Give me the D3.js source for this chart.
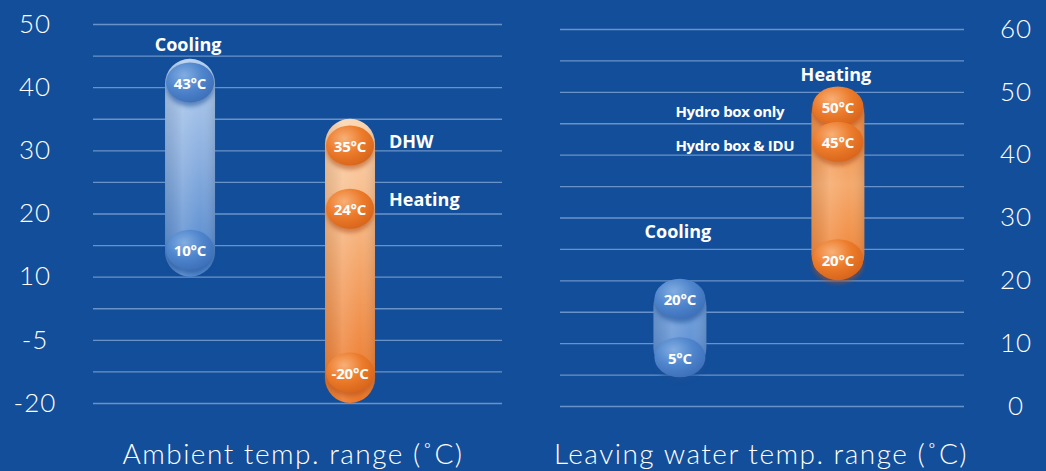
<!DOCTYPE html>
<html>
<head>
<meta charset="utf-8">
<script src="https://cdn.jsdelivr.net/npm/d3@7"></script>
<style>
html, body { margin: 0; padding: 0; background: #134e9a; }
svg { display: block; }
</style>
</head>
<body>
<svg id="chart" width="1046" height="471"></svg>
<script>
// ambient temperature panel (left)
const ambientTicks = [-20, -5, 10, 20, 30, 40, 50];
const ambientCats = ['Cooling', 'Heating'];
const ambientLow = [10, -20];
const ambientHigh = [44.5, 35];
const ambientMarkLabels = ['43°C', '10°C', '35°C', '24°C', '-20°C'];
const ambientMarkCats = ['Cooling', 'Cooling', 'Heating', 'Heating', 'Heating'];
const ambientMarkLevels = [40.6, 14.1, 30.6, 20.6, -13];
const ambientNotes = ['Cooling', 'DHW', 'Heating'];
const ambientNoteCats = ['Cooling', 'Heating', 'Heating'];
const ambientNoteLevels = [46.8, 31.4, 22.2];
const ambientNoteSides = ['top', 'right', 'right'];

// leaving water temperature panel (right)
const waterTicks = [0, 10, 20, 30, 40, 50, 60];
const waterCats = ['Cooling', 'Heating'];
const waterLow = [5, 20];
const waterHigh = [20, 50.6];
const waterMarkLabels = ['20°C', '5°C', '50°C', '45°C', '20°C'];
const waterMarkCats = ['Cooling', 'Cooling', 'Heating', 'Heating', 'Heating'];
const waterMarkLevels = [16.9, 7.6, 47.5, 41.9, 23.2];
const waterNotes = ['Heating', 'Hydro box only', 'Hydro box & IDU', 'Cooling'];
const waterNoteCats = ['Heating', 'Heating', 'Heating', 'Cooling'];
const waterNoteLevels = [52.7, 46.8, 41.4, 27.7];
const waterNoteSides = ['top', 'left', 'left', 'top'];

const svg = d3.select('#chart');
const defs = svg.append('defs');

const labelFont = '"Open Sans", "DejaVu Sans", sans-serif';
const axisFont = 'Lato, "Open Sans", sans-serif';

// gradients
function linearGrad(id, stops, horizontal) {
    const g = defs.append('linearGradient').attr('id', id)
        .attr('x1', 0).attr('y1', 0)
        .attr('x2', horizontal ? 1 : 0).attr('y2', horizontal ? 0 : 1);
    stops.forEach(s => g.append('stop').attr('offset', s[0]).attr('stop-color', s[1]).attr('stop-opacity', s[2] === undefined ? 1 : s[2]));
}
function radialGrad(id, stops) {
    const g = defs.append('radialGradient').attr('id', id)
        .attr('cx', '38%').attr('cy', '32%').attr('r', '70%');
    stops.forEach(s => g.append('stop').attr('offset', s[0]).attr('stop-color', s[1]));
}

linearGrad('amb-cool', [['0%', '#b6d0ef'], ['45%', '#8cb0e0'], ['100%', '#4e85cc']]);
linearGrad('amb-heat', [['0%', '#fbd6b2'], ['40%', '#f6b37d'], ['100%', '#ec7526']]);
linearGrad('wat-cool', [['0%', '#6f9dd9'], ['50%', '#6b9ad8'], ['100%', '#5386cd']]);
linearGrad('wat-heat', [['0%', '#ef8135'], ['50%', '#f5aa6d'], ['100%', '#ef7d2e']]);
linearGrad('cyl', [['0%', '#000000', 0.08], ['35%', '#ffffff', 0.12], ['70%', '#ffffff', 0], ['100%', '#000000', 0.1]], true);
radialGrad('mark-cool', [['0%', '#82ade2'], ['55%', '#4f85cc'], ['100%', '#3d71ba']]);
radialGrad('mark-heat', [['0%', '#f8b077'], ['55%', '#ec7b2b'], ['100%', '#d9661b']]);

defs.append('filter').attr('id', 'blur').attr('x', '-30%').attr('y', '-30%').attr('width', '160%').attr('height', '160%')
    .append('feGaussianBlur').attr('stdDeviation', 2);

const fills = {
    ambient: { Cooling: 'amb-cool', Heating: 'amb-heat' },
    water: { Cooling: 'wat-cool', Heating: 'wat-heat' }
};

function drawPanel(cfg) {
    const g = svg.append('g');

    // grid lines
    g.append('g')
        .attr('transform', `translate(${cfg.x0},0)`)
        .call(d3.axisLeft(cfg.y).tickValues(cfg.gridVals).tickSize(-(cfg.x1 - cfg.x0)).tickFormat(''))
        .call(a => a.select('.domain').remove())
        .call(a => a.selectAll('line').attr('stroke', '#8fb0dc').attr('stroke-opacity', 0.7).attr('stroke-width', 1.3));

    // tick labels (plain hyphen for negatives, like the original)
    const axis = (cfg.side === 'left' ? d3.axisLeft(cfg.y) : d3.axisRight(cfg.y))
        .tickValues(cfg.ticks).tickSize(0).tickPadding(0).tickFormat(d => String(d));
    g.append('g')
        .attr('transform', `translate(${cfg.labelX},0)`)
        .call(axis)
        .call(a => a.select('.domain').remove())
        .call(a => a.selectAll('text')
            .attr('text-anchor', 'middle')
            .attr('fill', '#ffffff')
            .attr('font-family', axisFont)
            .attr('font-weight', 300)
            .attr('font-size', 26)
            .attr('letter-spacing', 1));

    const x = d3.scaleBand()
        .domain(cfg.cats)
        .range([cfg.x0, cfg.x1])
        .paddingInner(cfg.padInner)
        .paddingOuter(cfg.padOuter)
        .align(cfg.align);
    const bw = x.bandwidth();

    // range bars
    const bars = cfg.cats.map((c, i) => ({ cat: c, lo: cfg.low[i], hi: cfg.high[i] }));
    const barG = g.append('g').selectAll('g').data(bars).join('g');
    barG.append('rect')
        .attr('x', d => x(d.cat))
        .attr('y', d => cfg.y(d.hi))
        .attr('width', bw)
        .attr('height', d => cfg.y(d.lo) - cfg.y(d.hi))
        .attr('rx', bw / 2)
        .attr('fill', d => `url(#${cfg.fills[d.cat]})`);
    barG.append('rect')
        .attr('x', d => x(d.cat))
        .attr('y', d => cfg.y(d.hi))
        .attr('width', bw)
        .attr('height', d => cfg.y(d.lo) - cfg.y(d.hi))
        .attr('rx', bw / 2)
        .attr('fill', 'url(#cyl)');

    // value markers
    const marks = cfg.markLabels.map((t, i) => ({ text: t, cat: cfg.markCats[i], level: cfg.markLevels[i] }));
    const markG = g.append('g').selectAll('g').data(marks).join('g')
        .attr('transform', d => `translate(${x(d.cat) + bw / 2},${cfg.y(d.level)})`);
    markG.append('ellipse')
        .attr('cy', 3)
        .attr('rx', bw / 2 - 1)
        .attr('ry', 20)
        .attr('fill', d => d.cat === 'Cooling' ? '#1d4f96' : '#b0501a')
        .attr('opacity', 0.55)
        .attr('filter', 'url(#blur)');
    markG.append('ellipse')
        .attr('cy', -1)
        .attr('rx', bw / 2 - 1)
        .attr('ry', 20)
        .attr('fill', d => d.cat === 'Cooling' ? 'url(#mark-cool)' : 'url(#mark-heat)');
    markG.append('text')
        .attr('text-anchor', 'middle')
        .attr('dy', '0.36em')
        .attr('fill', '#ffffff')
        .attr('font-family', labelFont)
        .attr('font-weight', 700)
        .attr('font-size', 15)
        .attr('letter-spacing', -0.2)
        .text(d => d.text);

    // notes
    const notes = cfg.notes.map((t, i) => ({ text: t, cat: cfg.noteCats[i], level: cfg.noteLevels[i], side: cfg.noteSides[i] }));
    g.append('g').selectAll('text').data(notes).join('text')
        .attr('x', d => {
            if (d.side === 'right') return x(d.cat) + bw + 14;
            if (d.side === 'left') return x(d.cat) - 136;
            return x(d.cat) + bw / 2 - 2;
        })
        .attr('y', d => cfg.y(d.level))
        .attr('dy', '0.36em')
        .attr('text-anchor', d => d.side === 'top' ? 'middle' : 'start')
        .attr('fill', '#ffffff')
        .attr('font-family', labelFont)
        .attr('font-weight', 700)
        .attr('font-size', d => d.side === 'left' ? 15 : 18)
        .attr('letter-spacing', d => d.side === 'left' ? -0.3 : 0)
        .text(d => d.text);

    // panel title
    g.append('text')
        .attr('x', cfg.titleX)
        .attr('y', 464)
        .attr('text-anchor', 'middle')
        .attr('fill', '#ffffff')
        .attr('font-family', axisFont)
        .attr('font-weight', 300)
        .attr('font-size', 28)
        .attr('letter-spacing', 1.5)
        .text(cfg.title);
}

// left: piecewise scale, labels evenly spaced
const yAmb = d3.scaleLinear()
    .domain(ambientTicks)
    .range(ambientTicks.map((d, i) => 403 - i * (403 - 24) / (ambientTicks.length - 1)));
const ambientGrid = ambientTicks.concat(d3.pairs(ambientTicks).map(p => (p[0] + p[1]) / 2));

drawPanel({
    side: 'left', y: yAmb, ticks: ambientTicks, gridVals: ambientGrid,
    x0: 93, x1: 502, labelX: 35,
    cats: ambientCats, padInner: 0.6875, padOuter: 0.622, align: 0.362,
    low: ambientLow, high: ambientHigh, fills: fills.ambient,
    markLabels: ambientMarkLabels, markCats: ambientMarkCats, markLevels: ambientMarkLevels,
    notes: ambientNotes, noteCats: ambientNoteCats, noteLevels: ambientNoteLevels, noteSides: ambientNoteSides,
    title: 'Ambient temp. range (˚C)', titleX: 293
});

const yWat = d3.scaleLinear().domain([0, 60]).range([406, 29]);
const waterGrid = d3.range(0, 61, 5);

drawPanel({
    side: 'right', y: yWat, ticks: waterTicks, gridVals: waterGrid,
    x0: 560, x1: 964, labelX: 1016,
    cats: waterCats, padInner: 0.665, padOuter: 0.611, align: 0.484,
    low: waterLow, high: waterHigh, fills: fills.water,
    markLabels: waterMarkLabels, markCats: waterMarkCats, markLevels: waterMarkLevels,
    notes: waterNotes, noteCats: waterNoteCats, noteLevels: waterNoteLevels, noteSides: waterNoteSides,
    title: 'Leaving water temp. range (˚C)', titleX: 761
});
</script>
</body>
</html>
